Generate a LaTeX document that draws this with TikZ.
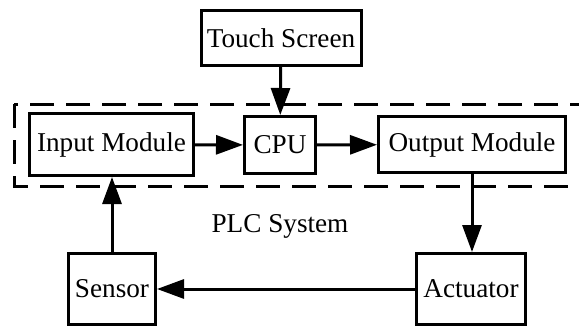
\documentclass[tikz,border=0pt]{standalone}
\usepackage{fontspec}
\setmainfont{Liberation Serif}
\usetikzlibrary{arrows.meta}

\begin{document}
\begin{tikzpicture}[x=1pt,y=-1pt,
    block/.style={draw, line width=3pt, inner sep=0pt, font=\fontsize{27.2}{30}\selectfont},
    flow/.style={line width=3pt, -{Triangle[length=27pt,width=19pt]}}]
        \useasboundingbox (0,0) rectangle (579,327);

        % Draw the PLC frame
        \draw[line width=3pt, dash pattern=on 24pt off 12pt] (14,104) rectangle (600,186);
        \node[font=\fontsize{27.2}{30}\selectfont] (plc) at (280,226) {PLC System};

        % Draw the blocks
        \node[block, minimum width=160, minimum height=55] (touch) at (281,38) {Touch Screen};
        \node[block, minimum width=164, minimum height=62] (input) at (111.5,144.5) {Input Module};
        \node[block, minimum width=71, minimum height=57] (cpu) at (280,145) {CPU};
        \node[block, minimum width=187, minimum height=56] (output) at (472,144.5) {Output Module};
        \node[block, minimum width=87, minimum height=71] (sensor) at (112,289) {Sensor};
        \node[block, minimum width=109, minimum height=71] (actuator) at (471,289) {Actuator};

        % Draw the signal flow
        \draw[flow] (touch) -- (cpu);
        \draw[flow] (input) -- (cpu);
        \draw[flow] (cpu) -- (output);
        \draw[flow] (output.south) -- (output.south |- actuator.north);
        \draw[flow] (actuator) -- (sensor);
        \draw[flow] (sensor.north) -- (sensor.north |- input.south);
    \end{tikzpicture}
\end{document}
